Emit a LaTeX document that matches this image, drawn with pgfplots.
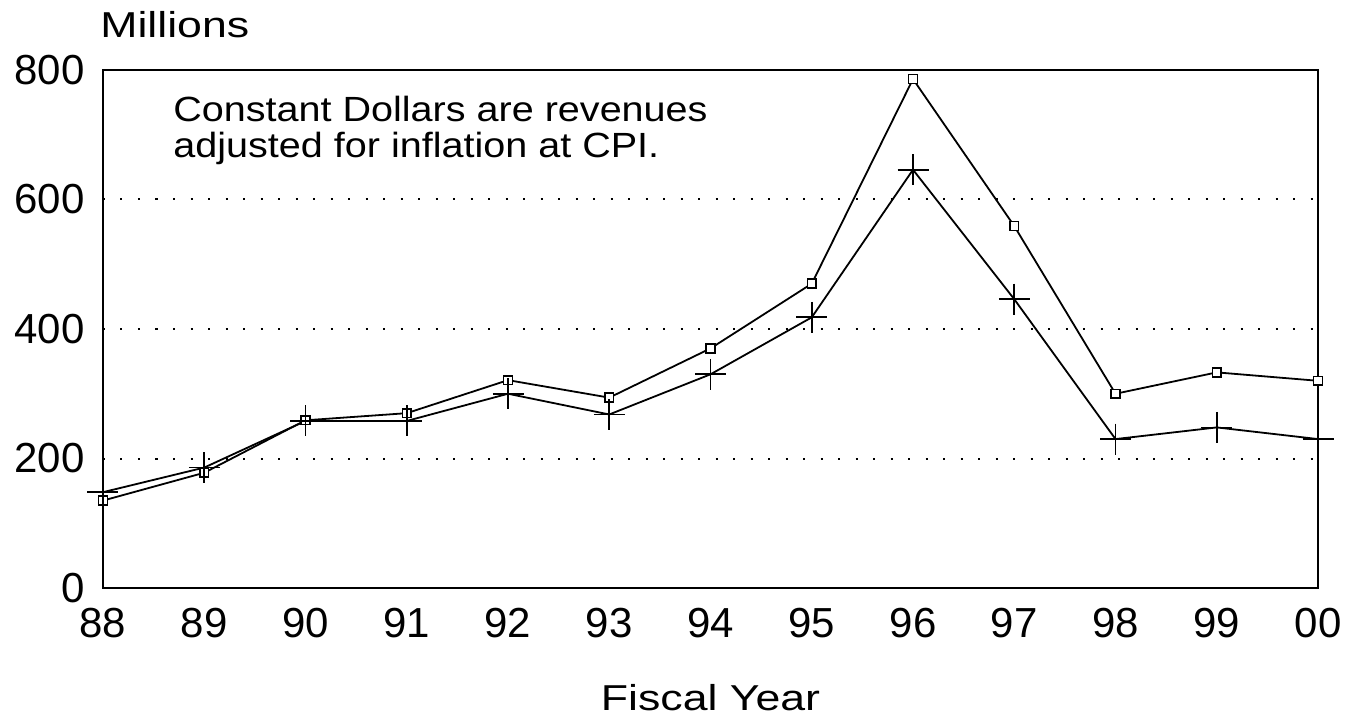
\documentclass[border=0pt]{standalone}
\usepackage{fontspec}
\setmainfont{Liberation Sans}
\newfontfamily\widefont{Liberation Sans}[FakeStretch=1.13]
\newfontfamily\widerfont{Liberation Sans}[FakeStretch=1.24]
\usepackage{pgfplots}
\pgfplotsset{compat=1.18}
\begin{document}
\begin{tikzpicture}
\useasboundingbox (-51.5pt,-64.5pt) rectangle (622.5pt,294pt);
\begin{axis}[
  scale only axis,
  width=607.5pt, height=259pt,
  xmin=0, xmax=12, ymin=0, ymax=800,
  xtick={0,...,12},
  xticklabels={88,89,90,91,92,93,94,95,96,97,98,99,00},
  ytick={0,200,400,600,800},
  major tick length=0pt,
  /pgf/number format/assume math mode=true,
  ticklabel style={font=\fontsize{21}{21}\selectfont},
  yticklabel style={anchor=east, inner sep=0pt, xshift=-9pt},
  xticklabel style={anchor=north, inner sep=0pt, yshift=-10pt},
  ymajorgrids,
  grid style={line width=1pt, dash pattern=on 1pt off 7.75pt, black},
  axis line style={line width=0.9pt},
  clip=false,
]
\addplot[black, line width=0.9pt, mark=square*, mark size=2.2pt,
  mark options={fill=white, line width=0.8pt}] coordinates {
  (0,135) (1,178) (2,259) (3,270) (4,321) (5,294) (6,370)
  (7,470) (8,786) (9,559) (10,300) (11,333) (12,320)};
\addplot[black, line width=0.9pt, mark=+, mark size=7.75pt,
  mark options={line width=0.9pt}] coordinates {
  (0,148) (1,186) (2,258) (3,258) (4,300) (5,268) (6,330)
  (7,418) (8,646) (9,446) (10,230) (11,248) (12,230)};
\end{axis}
\node[anchor=base west, inner sep=0pt, font=\widerfont\fontsize{18}{18}\selectfont] at (-1.5pt,275pt) {Millions};
\node[anchor=north west, inner sep=0pt, align=left, font=\widefont\fontsize{17.5}{18}\selectfont] at (35pt,246pt) {Constant Dollars are revenues\\adjusted for inflation at CPI.};
\node[anchor=base, inner sep=0pt, font=\widerfont\fontsize{18}{18}\selectfont] at (303.75pt,-61pt) {Fiscal Year};
\end{tikzpicture}
\end{document}
